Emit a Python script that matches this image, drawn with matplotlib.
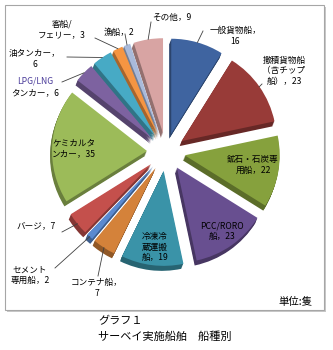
import matplotlib
matplotlib.use('Agg')
import numpy as np
import matplotlib.pyplot as plt
from matplotlib.patches import Rectangle
import matplotlib.colors as mcolors

plt.rcParams['font.family'] = ['Noto Sans CJK JP', 'DejaVu Sans']

# data (clockwise from 12 o'clock)
names = ['一般貨物船', '撒積貨物船', '鉱石・石炭専用船', 'PCC/RORO船', '冷凍冷蔵運搬船',
         'コンテナ船', 'セメント専用船', 'バージ', 'ケミカルタンカー', 'LPG/LNGタンカー',
         '油タンカー', '客船/フェリー', '漁船', 'その他']
counts = [16, 23, 22, 23, 19, 7, 2, 7, 35, 6, 6, 3, 2, 9]
labels = ['一般貨物船，\n16', '撒積貨物船\n（含チップ\n船），23', '鉱石・石炭専\n用船，22',
          'PCC/RORO\n船，23', '冷凍冷\n蔵運搬\n船，19', 'コンテナ船，\n7', 'セメント\n専用船，2',
          'バージ，7', 'ケミカルタ\nンカー，35', 'LPG/LNG\nタンカー，6', '油タンカー，\n6',
          '客船/\nフェリー，3', '漁船，2', 'その他，9']
colors = ['#3F64A0', '#983B38', '#86A13D', '#684F90', '#3A93A8', '#D4823A', '#5A8AD0',
          '#C4504C', '#9CBB59', '#7D62A0', '#47AAC5', '#F59542', '#A9BADA', '#D8A4A3']

W, H = 333, 350
fig = plt.figure(figsize=(W / 100, H / 100), dpi=100)
ax = fig.add_axes([0, 0, 1, 1])

cx, cy, R = 166, H - 152, 95
explode = [19] * len(counts)   # pie() takes explode in data units here

# frame with shadow
ax.add_patch(Rectangle((7, H - 312), 319, 305, facecolor='#C8C8C8', edgecolor='none', zorder=0))
ax.add_patch(Rectangle((5, H - 310), 319, 305, facecolor='white', edgecolor='#A6A6A6', lw=0.8, zorder=1))

# 3d side of the pie
depth = 5
dark = [mcolors.to_hex(np.array(mcolors.to_rgb(c)) * 0.68) for c in colors]
for d in range(depth, 0, -1):
    w, _ = ax.pie(counts, colors=dark, startangle=90, counterclock=False, explode=explode,
                  center=(cx - d * 0.4, cy - d), radius=R, wedgeprops=dict(linewidth=0), frame=True)
    for p in w:
        p.set_zorder(2)
wedges, _ = ax.pie(counts, colors=colors, startangle=90, counterclock=False, explode=explode,
                   center=(cx, cy), radius=R, wedgeprops=dict(linewidth=0), frame=True)
for p in wedges:
    p.set_zorder(3)

# label positions (image pixels) and leader line ends
label_pos = [(235, 36), (284, 71), (253, 165), (222, 231), (155, 247), (97, 288), (30, 275),
             (36, 226), (74, 148), (35, 87), (35, 59), (62, 29), (119, 32), (172, 17)]
leader_end = [(203, 31), (262, 84), None, None, None, (98, 276), (55, 268),
              (62, 232), None, (62, 82), (67, 57), (95, 38), (125, 34), (151, 22)]

angles = np.cumsum([0] + counts[:-1]) + np.array(counts) / 2
angles = angles / sum(counts) * 360
for i, lab in enumerate(labels):
    x, y = label_pos[i]
    if names[i] == 'LPG/LNGタンカー':
        ax.text(x, H - y + 6, 'LPG/LNG', ha='center', va='center', fontsize=6.2, color='#4B3C9A', zorder=5)
        ax.text(x, H - y - 6, 'タンカー，6', ha='center', va='center', fontsize=6.2, zorder=5)
    else:
        ax.text(x, H - y, lab, ha='center', va='center', fontsize=6.2, linespacing=1.2, zorder=5)
    if leader_end[i] is not None:
        a = np.deg2rad(angles[i])
        r = R + explode[i]
        ax0, ay0 = cx + r * np.sin(a), cy + r * np.cos(a)
        ex, ey = leader_end[i]
        ax.plot([ax0, ex], [ay0, H - ey], color='#404040', lw=0.6, zorder=4)

ax.text(295, H - 302, '単位:隻', ha='center', va='center', fontsize=7.5, zorder=5)
ax.text(98, H - 321, 'グラフ１', ha='left', va='center', fontsize=8)
ax.text(98, H - 337, 'サーベイ実施船舶　船種別', ha='left', va='center', fontsize=8)

ax.set_xlim(0, W)
ax.set_ylim(0, H)
ax.set_aspect('equal')
ax.axis('off')
fig.savefig('out.png', dpi=100)
